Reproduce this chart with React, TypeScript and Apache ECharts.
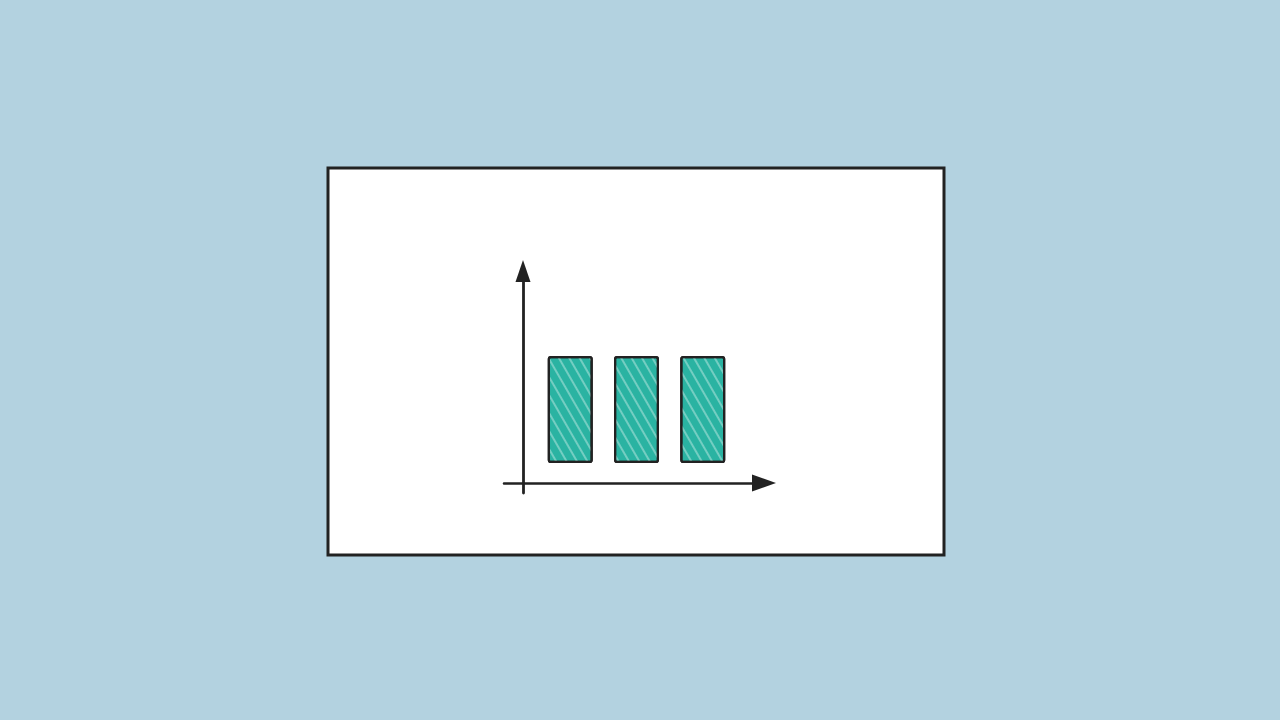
import React, { useEffect, useRef } from "react";
import * as echarts from "echarts";

// Sketch bar chart: three equal bars sitting just above the x axis
const categories = ["", "A", "B", "C", ""];
const baseGap = ["-", 2, 2, 2, "-"];
const barValues = ["-", 10.7, 10.7, 10.7, "-"];
const yRange = [-1, 21.2];

const BG = "#b3d2e0";
const INK = "#222222";
const TEAL = "#2ab3a2";

const App: React.FC = () => {
  const chartRef = useRef<HTMLDivElement | null>(null);

  useEffect(() => {
    if (!chartRef.current) return;
    const chart = echarts.init(chartRef.current, undefined, { renderer: "svg" });

    chart.setOption({
      animation: false,
      backgroundColor: BG,
      graphic: [
        {
          type: "rect",
          silent: true,
          z: 0,
          shape: { x: 328, y: 168, width: 616, height: 387 },
          style: { fill: "#ffffff", stroke: INK, lineWidth: 3 },
        },
      ],
      grid: { left: 504, right: 1280 - 769, top: 271, bottom: 720 - 493 },
      xAxis: {
        type: "category",
        data: categories,
        boundaryGap: false,
        axisLine: {
          onZero: true,
          symbol: ["none", "triangle"],
          symbolSize: [17, 24],
          symbolOffset: [0, -5],
          lineStyle: { color: INK, width: 2.5 },
        },
        axisTick: { show: false },
        axisLabel: { show: false },
        splitLine: { show: false },
      },
      yAxis: {
        type: "value",
        min: yRange[0],
        max: yRange[1],
        offset: -19,
        axisLine: {
          show: true,
          onZero: false,
          symbol: ["none", "triangle"],
          symbolSize: [15, 22],
          lineStyle: { color: INK, width: 2.8 },
        },
        axisTick: { show: false },
        axisLabel: { show: false },
        splitLine: { show: false },
      },
      series: [
        {
          type: "bar",
          stack: "s",
          data: baseGap,
          barWidth: 45,
          silent: true,
          itemStyle: { color: "transparent" },
        },
        {
          type: "bar",
          stack: "s",
          data: barValues,
          barWidth: 45,
          itemStyle: {
            color: TEAL,
            borderColor: INK,
            borderWidth: 2.2,
            borderRadius: 2,
            decal: {
              symbol: "rect",
              color: "rgba(255,255,255,0.35)",
              dashArrayX: [1, 0],
              dashArrayY: [2, 7],
              rotation: Math.PI / 3,
            },
          },
        },
      ],
    });

    return () => chart.dispose();
  }, []);

  return (
    <div style={{ position: "fixed", left: 0, top: 0, width: 1280, height: 720 }}>
      <div ref={chartRef} style={{ width: 1280, height: 720 }} />
    </div>
  );
};

export default App;
